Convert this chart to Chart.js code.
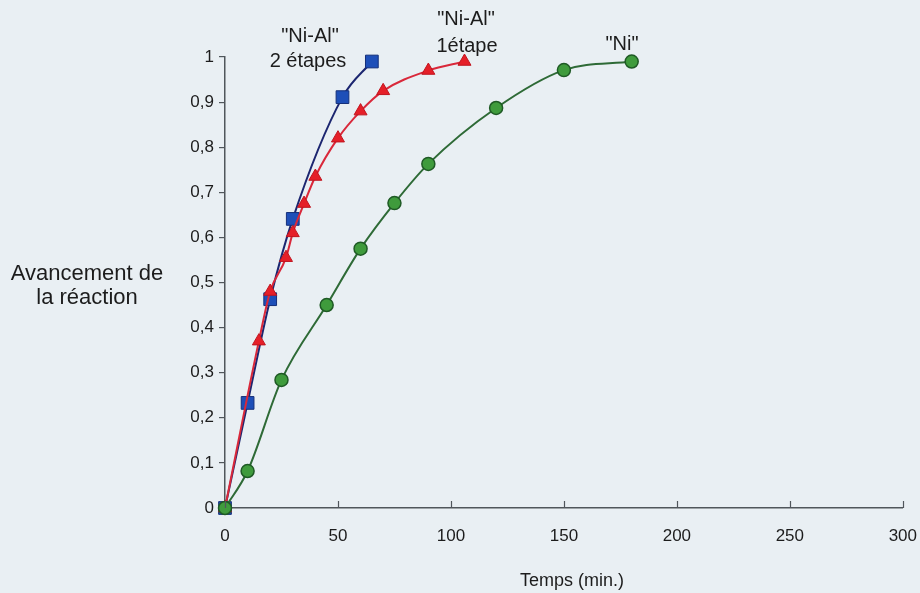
<!DOCTYPE html>
<html><head><meta charset="utf-8">
<script src="https://cdn.jsdelivr.net/npm/chart.js@4/dist/chart.umd.min.js"></script>
<style>html,body{margin:0;padding:0;background:#e9eff3;overflow:hidden}#wrap{width:920px;height:593px}</style>
</head><body><div id="wrap"><canvas id="c" width="920" height="593"></canvas></div>
<script>
// Data
const niTime   = [0, 10, 25, 45, 60, 75, 90, 120, 150, 180];
const niValue  = [0, 0.082, 0.284, 0.45, 0.575, 0.676, 0.763, 0.887, 0.971, 0.99];
const al1Time  = [0, 15, 20, 27, 30, 35, 40, 50, 60, 70, 90, 106];
const al1Value = [0, 0.37, 0.48, 0.555, 0.61, 0.675, 0.735, 0.82, 0.88, 0.925, 0.97, 0.99];
const al2Time  = [0, 10, 20, 30, 52, 65];
const al2Value = [0, 0.233, 0.463, 0.641, 0.911, 0.99];
const seriesLabels = ['"Ni"', '"Ni-Al" 1étape', '"Ni-Al" 2 étapes'];
const xTitle = 'Temps (min.)';
const yTitle = ['Avancement de', 'la réaction'];

const pts = (xs, ys) => xs.map((x, i) => ({x: x, y: ys[i]}));
const FONT = '"Liberation Sans", Arial, sans-serif';
const AXIS = '#50565b';
const TXT = '#1c1c1c';

const labelsPlugin = {
  id: 'labels',
  afterDraw(chart) {
    const ctx = chart.ctx, xs = chart.scales.x;
    const a = chart.chartArea;
    ctx.save();
    // inward x ticks
    ctx.strokeStyle = AXIS; ctx.lineWidth = 1.2;
    xs.ticks.forEach(t => {
      const px = Math.round(xs.getPixelForValue(t.value)) + 0.5;
      ctx.beginPath(); ctx.moveTo(px, a.bottom); ctx.lineTo(px, a.bottom - 7); ctx.stroke();
    });
    ctx.fillStyle = TXT;
    ctx.textAlign = 'center'; ctx.textBaseline = 'middle';
    ctx.font = '20px ' + FONT;
    ctx.fillText('"Ni-Al"', 310, 36);
    ctx.fillText('2 étapes', 308, 61);
    ctx.fillText('"Ni-Al"', 466, 19);
    ctx.fillText('1étape', 467, 46);
    ctx.fillText('"Ni"', 622, 44);
    ctx.font = '22px ' + FONT;
    ctx.fillText(yTitle[0], 87, 274);
    ctx.fillText(yTitle[1], 87, 298);
    ctx.font = '18px ' + FONT;
    ctx.fillText(xTitle, 572, 581);
    ctx.restore();
  }
};

new Chart(document.getElementById('c'), {
  type: 'line',
  data: {
    datasets: [
      {
        label: seriesLabels[0], data: pts(niTime, niValue), order: 1,
        borderColor: '#2e6a36', borderWidth: 2, backgroundColor: '#3f9b3c',
        pointStyle: 'circle', pointRadius: 6.5, pointBorderColor: '#1f5a25', pointBorderWidth: 1.5,
        cubicInterpolationMode: 'monotone', clip: false
      },
      {
        label: seriesLabels[1], data: pts(al1Time, al1Value), order: 2,
        borderColor: '#d9283a', borderWidth: 2, backgroundColor: '#e51f28',
        pointStyle: 'triangle', pointRadius: 7.5, pointBorderColor: '#c0141e', pointBorderWidth: 1,
        cubicInterpolationMode: 'monotone', clip: false
      },
      {
        label: seriesLabels[2], data: pts(al2Time, al2Value), order: 3,
        borderColor: '#1c2670', borderWidth: 2, backgroundColor: '#1e4fb8',
        pointStyle: 'rect', pointRadius: 9, pointBorderColor: '#15307a', pointBorderWidth: 1,
        cubicInterpolationMode: 'monotone', clip: false
      }
    ]
  },
  options: {
    responsive: false, animation: false, devicePixelRatio: 1,
    layout: {padding: {left: 0, right: 4, top: 57, bottom: 0}},
    plugins: {legend: {display: false}, tooltip: {enabled: false}},
    scales: {
      x: {
        type: 'linear', min: 0, max: 300,
        ticks: {stepSize: 50, color: TXT, font: {family: FONT, size: 17}, padding: 3, maxRotation: 0},
        grid: {display: true, drawOnChartArea: false, drawTicks: true, tickLength: 15, color: 'rgba(0,0,0,0)'},
        border: {display: true, color: AXIS, width: 1.5},
        afterFit(s) { s.height = 85; }
      },
      y: {
        type: 'linear', min: 0, max: 1,
        ticks: {stepSize: 0.1, color: TXT, font: {family: FONT, size: 17}, padding: 5,
          callback: v => String(Math.round(v * 10) / 10).replace('.', ',')},
        grid: {drawOnChartArea: false, drawTicks: true, tickLength: 6, color: AXIS, lineWidth: 1.2},
        border: {display: true, color: AXIS, width: 1.5},
        afterFit(s) { s.width = 225; }
      }
    }
  },
  plugins: [labelsPlugin]
});
</script>
</body></html>
